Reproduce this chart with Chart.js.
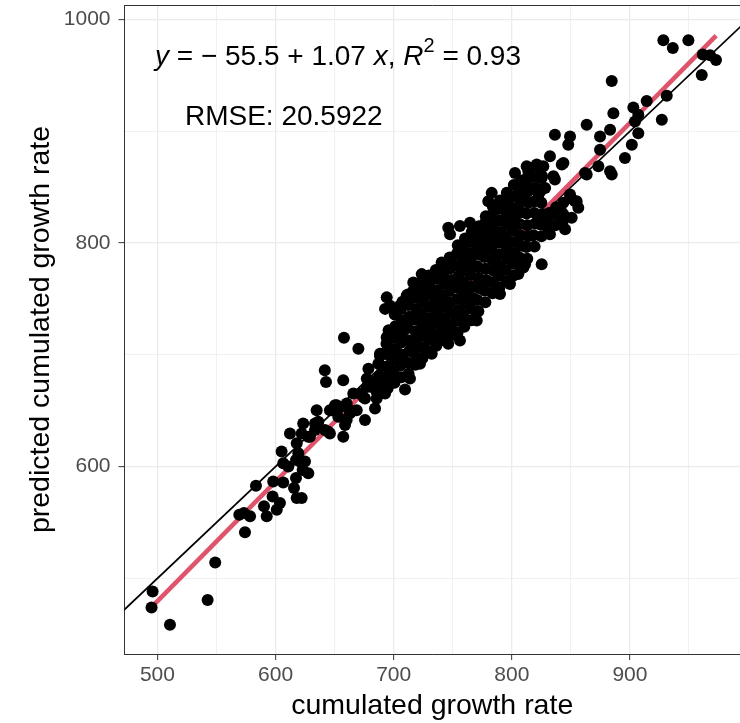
<!DOCTYPE html>
<html>
<head>
<meta charset="utf-8">
<script src="https://cdn.jsdelivr.net/npm/chart.js@4.4.1/dist/chart.umd.min.js"></script>
<style>
  html, body { margin: 0; padding: 0; background: #fff; overflow: hidden; }
  #wrap { width: 740px; height: 723px; position: relative; }
  canvas { display: block; }
</style>
</head>
<body>
<div id="wrap"><canvas id="chart"></canvas></div>
<script>
// axis breaks
const xMajor = [500, 600, 700, 800, 900];
const xMinor = [550, 650, 750, 850, 950];
const yMajor = [600, 800, 1000];
const yMinor = [500, 700, 900];
const xRange = [472.1, 993.2];
const yRange = [432.3, 1013];

// fitted line (y = -55.5 + 1.07x) and the 1:1 line
const fitLine = [[495, 474.2], [973, 985.6]];
const oneToOne = [[440, 440], [1040, 1040]];

// annotations: [x, y] of the text start, in data units
const eqPos = [497.9, 959.4];
const rmsePos = [523.3, 905.7];
const rmseText = 'RMSE: 20.5922';

const lowerTail = [
  [495.9,488.2],[495.0,473.9],[510.6,458.4],[542.5,480.7],[548.9,514.2],[574.1,541.2],[569.3,557.0],
  [573.2,558.5],[578.4,555.5],[583.4,582.8],[590.2,564.4],[592.5,555.5],[597.5,573.3],[598.0,586.6]
];
const lowerBand = [
  [601.0,561.4],[603.7,567.4],[606.5,585.8],[605.1,613.4],[606.5,603.0],[610.8,600.0],[612.2,629.7],
  [617.9,620.8],[619.3,611.9],[617.3,606.0],[620.6,604.5],[624.9,604.5],[617.3,589.7],[622.9,597.0],
  [627.7,594.1],[615.6,580.8],[617.9,571.9],[622.1,571.9],[623.4,638.6],[622.1,629.7],[627.7,626.7],
  [633.4,638.6],[634.8,650.5],[633.4,632.7],[641.8,632.7],[646.0,629.7],[647.5,650.5],[650.3,654.9],
  [654.5,653.4],[660.2,656.5],[663.0,650.5],[660.2,641.6],[658.8,637.1],[657.3,626.7],[653.1,644.5],
  [665.8,665.4],[671.4,665.4],[675.7,660.9],[677.2,671.2],[681.4,671.2],[685.6,666.8],[675.7,641.6],
  [668.7,650.5],[684.2,652.0],[642.7,675.7],[657.3,677.2],[657.9,715.2],[670.1,705.4],[641.7,686.1],
  [678.6,687.6],[685.6,660.9],[677.2,678.7],[685.6,677.2],[674.3,662.3],[663.0,647.6],[646.0,650.5],
  [651.8,654.9],[636.2,640.1],[629.1,626.7],[644.7,631.2]
];
const cloudEdge = [
  [709.6,668.9],[692.7,665.4],[694.1,672.8],[691.2,701.0],[695.4,717.3],[705.3,720.2],[709.6,724.7],
  [713.8,730.6],[692.7,741.1],[705.3,744.0],[719.5,739.5],[694.1,751.4],[696.9,744.0],[711.0,752.9],
  [716.6,764.7],[723.7,772.2],[708.2,721.7],[694.1,715.8],[688.4,701.0],[687.0,692.1],[713.8,678.7],
  [802.7,862.7],[812.6,868.7],[821.1,870.2],[826.7,868.7],[835.2,859.8],[842.3,870.2],[832.3,877.6],
  [783.0,844.9],[780.1,837.5],[807.7,847.9],[809.0,842.0],[797.0,836.0],[795.7,828.6],[801.3,822.6],
  [746.2,813.7],[747.7,807.8],[756.1,815.2],[764.6,818.2],[778.7,813.7],[784.4,818.2],[757.6,794.5],
  [764.6,785.6],[773.1,803.4],[771.6,795.9],[740.6,782.6],[747.7,785.6],[756.1,781.1],[716.6,757.4],
  [825.3,781.1],[809.8,778.1],[798.5,763.3],[790.0,754.4],[770.3,730.6],[756.1,712.8],[746.2,709.9],
  [845.1,812.3],[850.7,822.6],[854.9,837.5],[832.3,807.8],[840.8,822.6],[719.5,715.8],[728.0,703.9],
  [722.3,692.1],[770.3,798.9],[778.7,801.9],[805.5,772.2],[811.2,781.1],[787.3,760.3],[768.9,732.2],
  [732.2,701.0],[719.5,695.0],[825.3,858.3],[836.5,856.8],[816.9,849.3],[822.4,840.4],[849.3,840.4],
  [830.9,817.6],[761.9,800.4],[749.7,722.0],[742.8,716.0]
];
const mainCloud = [
  [688.8,671],[688.0,681],[689.6,690],[688.4,699],
  [694.9,670],[694.2,680.5],[695.4,690],[694.6,700.5],[693.9,710],[695.7,722],
  [700.7,675],[699.9,685],[701.3,695.5],[700.5,705],[699.8,715],[701.4,725.5],[700.9,736],
  [706.5,680],[705.7,690.5],[707.2,700],[706.3,711],[705.6,721],[707.0,731],[706.2,741],[707.4,747.5],
  [712.6,683],[711.8,693],[713.2,703.5],[712.3,713],[711.7,724],[713.1,734],[712.5,744.5],[711.9,754],
  [718.3,691],[717.6,701.5],[719.1,711],[718.5,721],[717.8,731.5],[719.3,741],[718.6,751],[717.9,760],
  [724.3,697],[723.6,707],[725.0,717.5],[724.1,727],[723.4,737],[724.9,747.5],[724.2,757],[723.7,766],
  [730.3,703],[729.6,713.5],[731.0,723],[730.1,733],[729.4,743],[730.8,753.5],[730.2,763],[729.7,771],
  [736.1,708],[735.4,718],[736.9,728.5],[736.2,738],[735.5,748],[737.0,758],[736.3,768.5],[735.7,776],
  [742.3,713],[741.5,723.5],[743.0,733],[742.1,743],[741.4,753],[742.8,763.5],[742.2,773],[741.7,781],
  [748.0,717],[747.3,727],[748.8,737.5],[747.9,747],[747.2,757],[748.7,767],[748.1,777.5],[747.4,787],
  [754.1,720],[753.3,730.5],[754.8,740],[753.9,750],[753.2,760.5],[754.7,770],[754.0,780],[753.5,790.5],[754.3,798],
  [759.8,725],[759.1,735],[760.6,745.5],[759.9,755],[759.2,765],[760.7,775.5],[760.0,785],[759.3,795],[760.4,804],
  [765.9,731],[765.1,741.5],[766.6,751],[765.7,761],[765.0,771.5],[766.5,781],[765.8,791],[765.3,801.5],[766.1,810],
  [771.7,739],[770.9,749],[772.4,759.5],[771.6,769],[771.0,779],[772.5,789.5],[771.8,799],[771.1,809],[772.2,815],
  [777.6,747],[776.9,757.5],[778.4,767],[777.7,777],[777.0,787.5],[778.5,797],[777.8,807],[777.2,817.5],[778.0,824],
  [783.7,755],[782.9,765],[784.4,775.5],[783.5,785],[782.8,795],[784.3,805.5],[783.6,815],[783.1,825],[783.9,833],
  [789.5,760],[788.7,770.5],[790.2,780],[789.4,790],[788.8,800.5],[790.3,810],[789.6,820],[788.9,830.5],[790.0,838],
  [795.4,766],[794.7,776],[796.2,786.5],[795.5,796],[794.8,806],[796.3,816.5],[795.6,826],[795.0,836],[795.8,845],
  [801.5,771],[800.7,781.5],[802.2,791],[801.3,801],[800.6,811.5],[802.1,821],[801.4,831],[800.9,841.5],[801.7,852],
  [807.3,777],[806.5,787],[808.0,797.5],[807.2,807],[806.6,817],[808.1,827.5],[807.4,837],[806.7,847],[807.8,856],
  [813.1,786],[812.4,796.5],[813.9,806],[813.2,816],[812.5,826.5],[814.0,836],[813.3,846],[812.7,858],
  [819.3,797],[818.5,807],[820.0,817.5],[819.1,827],[818.4,837],[819.9,847.5],[819.2,859],
  [825.1,806],[824.3,816.5],[825.8,826],[825.0,836],[824.4,846.5],[825.6,860],
  [830.9,810],[830.2,820],[831.7,827],
  [837.0,816],[836.3,826],[837.6,832],
  [842.8,818],[842.1,828],[843.6,836]
];
const upperTail = [
  [863.4,905.8],[836.5,896.9],[849.3,895.4],[847.8,888.0],[843.7,871.6],[874.7,895.4],[883.2,901.3],
  [874.7,883.5],[873.3,868.7],[883.2,864.2],[862.0,862.7],[886.0,916.1],[907.1,914.7],[907.1,898.3],
  [901.6,888.0],[895.8,876.1],[814.0,864.2],[828.2,849.3],[811.2,853.8],[856.3,831.5],[843.7,825.6],
  [928.3,981.5],[936.3,974.6],[949.5,981.5],[961.7,968.7],[967.9,968.1],[972.9,963.7],[960.8,950.3],
  [884.6,945.0],[931.2,931.9],[914.2,927.2],[927.0,910.3],[902.9,921.2],[904.3,908.8],[884.6,861.3],
  [863.4,861.3],[815.4,867.2],[823.9,867.2],[821.1,849.3],[849.3,843.5],[853.5,837.5]
];

const FONT = "'Liberation Sans', Arial, Helvetica, sans-serif";
const toXY = (p) => ({ x: p[0], y: p[1] });
const points = [].concat(lowerTail, lowerBand, mainCloud, cloudEdge, upperTail).map(toXY);

function gridStyle(major) {
  return {
    color: '#EBEBEB',
    lineWidth: (c) => major.includes(c.tick.value) ? 1.3 : 0.7,
    tickColor: (c) => major.includes(c.tick.value) ? '#333333' : 'rgba(0,0,0,0)',
    tickLength: 6,
    tickWidth: 1
  };
}

// ggplot-like panel top border + the regression annotations
const annotate = {
  id: 'annotate',
  afterDraw(chart) {
    const { ctx, chartArea: a, scales: { x, y } } = chart;
    ctx.save();
    ctx.strokeStyle = '#333333';
    ctx.lineWidth = 1;
    ctx.beginPath();
    ctx.moveTo(a.left, a.top + 0.5);
    ctx.lineTo(a.right + 2, a.top + 0.5);
    ctx.stroke();

    ctx.fillStyle = '#000';
    ctx.textBaseline = 'alphabetic';
    ctx.textAlign = 'left';
    const size = 28;
    let px = x.getPixelForValue(eqPos[0]);
    const py = y.getPixelForValue(eqPos[1]);
    const parts = [
      ['y', 'italic', 1, 0],
      [' = \u2212 55.5 + 1.07 ', 'normal', 1, 0],
      ['x', 'italic', 1, 0],
      [', ', 'normal', 1, 0],
      ['R', 'italic', 1, 0],
      ['2', 'normal', 0.7, -0.45],
      [' = 0.93', 'normal', 1, 0]
    ];
    parts.forEach(([t, style, scale, rise]) => {
      ctx.font = style + ' ' + Math.round(size * scale) + 'px ' + FONT;
      ctx.fillText(t, px, py + rise * size);
      px += ctx.measureText(t).width;
    });

    ctx.font = size + 'px ' + FONT;
    ctx.fillText(rmseText, x.getPixelForValue(rmsePos[0]), y.getPixelForValue(rmsePos[1]));
    ctx.restore();
  }
};

new Chart(document.getElementById('chart'), {
  type: 'scatter',
  data: {
    datasets: [
      {
        label: 'observations',
        data: points,
        pointRadius: 6,
        pointBackgroundColor: '#000000',
        pointBorderWidth: 0,
        order: 0
      },
      {
        label: 'fit',
        data: fitLine.map(toXY),
        showLine: true,
        borderColor: '#DF536B',
        borderWidth: 4.5,
        pointRadius: 0,
        order: 1
      },
      {
        label: '1:1',
        data: oneToOne.map(toXY),
        showLine: true,
        borderColor: '#000000',
        borderWidth: 1.8,
        pointRadius: 0,
        order: 2
      }
    ]
  },
  options: {
    responsive: true,
    maintainAspectRatio: false,
    animation: false,
    layout: { autoPadding: false, padding: { top: 5, right: 0, bottom: 0, left: 0 } },
    plugins: { legend: { display: false }, tooltip: { enabled: false } },
    scales: {
      x: {
        type: 'linear',
        min: xRange[0],
        max: xRange[1],
        afterBuildTicks: (s) => { s.ticks = xMajor.concat(xMinor).sort((a, b) => a - b).map((v) => ({ value: v })); },
        afterFit: (s) => { s.height = 69; s.paddingLeft = 0; s.paddingRight = 0; },
        grid: gridStyle(xMajor),
        border: { display: true, color: '#333333', width: 1 },
        ticks: {
          color: '#4D4D4D',
          font: { family: FONT, size: 21 },
          padding: 3,
          autoSkip: false,
          maxRotation: 0,
          callback: (v) => xMajor.includes(v) ? String(v) : ''
        },
        title: {
          display: true,
          text: 'cumulated growth rate',
          color: '#000',
          font: { family: FONT, size: 28.5 },
          padding: { top: 0, bottom: 0 }
        }
      },
      y: {
        type: 'linear',
        min: yRange[0],
        max: yRange[1],
        afterBuildTicks: (s) => { s.ticks = yMinor.concat(yMajor).sort((a, b) => a - b).map((v) => ({ value: v })); },
        afterFit: (s) => { s.width = 124.5; s.paddingTop = 0; s.paddingBottom = 0; },
        grid: gridStyle(yMajor),
        border: { display: true, color: '#333333', width: 1 },
        ticks: {
          color: '#4D4D4D',
          font: { family: FONT, size: 21 },
          padding: 8,
          autoSkip: false,
          callback: (v) => yMajor.includes(v) ? String(v) : ''
        },
        title: {
          display: true,
          text: 'predicted cumulated growth rate',
          color: '#000',
          font: { family: FONT, size: 28.5 },
          padding: { top: 24, bottom: 0 }
        }
      }
    }
  },
  plugins: [annotate]
});
</script>
</body>
</html>
